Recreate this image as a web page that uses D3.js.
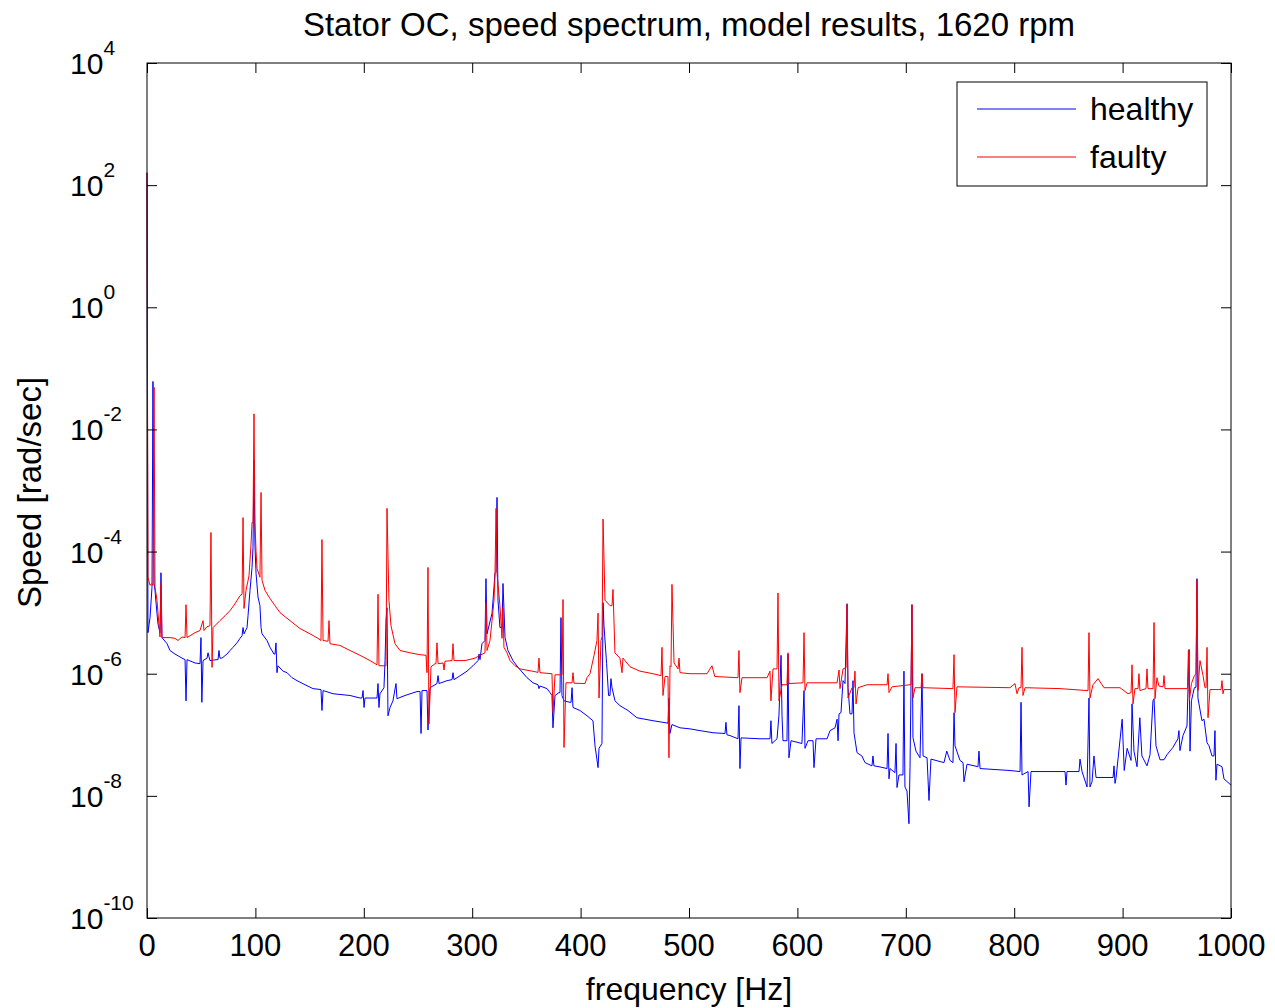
<!DOCTYPE html>
<html lang="en">
<head>
   <meta charset="UTF-8">
   <title>Stator OC, speed spectrum</title>
   <style>
      html, body {
         margin: 0;
         background: #fff;
      }
      text {
         font-family: 'Liberation Sans', Arial, sans-serif;
         fill: #000;
      }
      .trace {
         fill: none;
         stroke-width: 1;
         stroke-linejoin: miter;
      }
   </style>
   <script src="https://cdn.jsdelivr.net/npm/d3@7"></script>
</head>
<body>
   <div class="chart"></div>
   <script>
      // data: [frequency Hz, speed rad/sec]
      const healthy = [
         [0, 1.6e2], [0.9, 4.7e-6], [2.8, 8.3e-6], [4.6, 2.6e-5], [5.5, 6.1e-2], [6.5, 3.0e-5], [7.4, 2.3e-5],
         [9.2, 9.7e-6], [10.1, 6.6e-6], [12.0, 4.7e-6], [12.9, 4.5e-5], [13.8, 3.9e-6], [18.5, 3.1e-6],
         [21.2, 2.4e-6], [25.8, 2.1e-6], [32.3, 1.8e-6], [35.1, 1.7e-6], [36.0, 3.6e-7], [36.9, 1.7e-6],
         [44.3, 1.5e-6], [48.9, 1.46e-6], [49.8, 3.9e-6], [50.6, 3.4e-7], [51.7, 1.64e-6], [55.4, 1.8e-6],
         [56.3, 2.2e-6], [58.1, 1.64e-6], [64.6, 1.7e-6], [65.5, 1.7e-6], [66.4, 2.4e-6], [67.3, 1.8e-6],
         [69.2, 1.8e-6], [73.8, 2.1e-6], [76.6, 2.4e-6], [79.3, 2.7e-6], [83.0, 3.2e-6], [85.8, 3.8e-6],
         [87.7, 4.2e-6], [88.6, 5.7e-6], [89.5, 4.5e-6], [92.3, 5.7e-6], [93.2, 8.9e-6], [95.0, 2.3e-5],
         [96.9, 5.5e-5], [97.8, 1.17e-4], [98.7, 3.1e-3], [99.6, 1.25e-4], [100.6, 4.4e-5], [102.4, 1.8e-5],
         [104.2, 1.3e-5], [105.2, 5.7e-6], [106.1, 4.5e-6], [110.7, 3.5e-6], [113.5, 2.7e-6], [117.2, 2.1e-6],
         [118.1, 2.1e-6], [119.0, 3.2e-6], [119.9, 1.04e-6], [120.8, 1.35e-6], [125.5, 1.1e-6], [129.2, 1.04e-6],
         [133.8, 8.6e-7], [138.4, 7.7e-7], [145.8, 6.6e-7], [153.1, 5.7e-7], [160.5, 5.5e-7], [161.4, 2.5e-7],
         [162.4, 5.3e-7], [171.6, 4.7e-7], [187.3, 4.4e-7], [196.5, 4.0e-7], [198.4, 4.0e-7], [199.3, 5.3e-7],
         [200.2, 2.8e-7], [201.1, 4.0e-7], [207.6, 4.0e-7], [212.2, 4.0e-7], [213.1, 6.9e-7], [214.0, 2.8e-7],
         [214.9, 4.7e-7], [218.6, 5.9e-7], [219.6, 1.64e-6], [220.5, 7.4e-6], [221.4, 1.2e-5], [222.3, 2.05e-7],
         [224.2, 2.8e-7], [226.9, 3.6e-7], [229.7, 6.9e-7], [230.6, 3.9e-7], [238.0, 4.4e-7], [249.1, 5.1e-7],
         [251.9, 5.1e-7], [252.8, 1.05e-7], [253.7, 5.3e-7], [258.3, 5.3e-7], [259.2, 1.2e-7], [261.1, 5.9e-7],
         [267.5, 6.9e-7], [268.5, 9.3e-7], [269.4, 6.9e-7], [276.8, 7.7e-7], [281.4, 8.0e-7], [282.3, 1.04e-6],
         [283.2, 8.0e-7], [286.0, 8.6e-7], [295.2, 1.1e-6], [300.7, 1.35e-6], [305.4, 1.64e-6], [306.3, 2.1e-6],
         [307.2, 1.7e-6], [309.0, 3.1e-6], [311.8, 3.5e-6], [312.7, 3.6e-5], [313.7, 4.5e-6], [318.3, 9.8e-6],
         [320.1, 2.6e-5], [321.0, 4.4e-5], [322.0, 4.6e-5], [322.9, 7.7e-4], [323.8, 1.6e-5], [325.6, 5.7e-6],
         [327.5, 5.7e-6], [328.4, 3.0e-5], [330.3, 3.9e-6], [333.0, 2.4e-6], [337.6, 1.64e-6], [342.3, 1.27e-6],
         [350.6, 8.6e-7], [356.1, 7.1e-7], [360.7, 6.6e-7], [361.6, 5.7e-7], [362.5, 6.3e-7], [369.0, 5.7e-7],
         [371.8, 4.9e-7], [373.6, 4.4e-7], [374.5, 1.3e-7], [376.4, 4.4e-7], [380.0, 4.9e-7], [381.0, 4.9e-7],
         [381.9, 8.3e-6], [382.8, 4.4e-7], [384.7, 3.6e-7], [390.2, 3.4e-7], [391.2, 3.4e-7], [392.1, 5.9e-7],
         [393.0, 2.8e-7], [399.4, 2.5e-7], [405.9, 2.05e-7], [411.4, 1.7e-7], [413.3, 6.6e-8], [416.1, 2.9e-8],
         [417.0, 6.0e-8], [419.7, 7.2e-8], [420.7, 1.46e-5], [421.6, 6.1e-6], [424.0, 1.46e-6], [425.8, 4.4e-7],
         [427.1, 4.4e-7], [428.0, 8.3e-7], [428.9, 6.0e-7], [431.7, 3.6e-7], [436.3, 3.0e-7], [443.7, 2.5e-7],
         [452.0, 1.9e-7], [466.8, 1.7e-7], [476.0, 1.6e-7], [480.6, 1.55e-7], [481.5, 4.0e-7], [482.4, 1.05e-7],
         [484.3, 1.47e-7], [491.7, 1.3e-7], [500.9, 1.25e-7], [510.1, 1.17e-7], [522.1, 1.08e-7], [533.2, 1.05e-7],
         [534.1, 1.6e-7], [535.0, 1.0e-7], [537.8, 9.7e-8], [545.2, 8.6e-8], [546.1, 3.0e-7], [547.0, 2.8e-8],
         [548.0, 8.9e-8], [565.5, 8.6e-8], [574.7, 8.6e-8], [575.6, 1.7e-7], [576.5, 7.2e-8], [581.2, 8.6e-8],
         [583.0, 2.1e-7], [584.9, 2.0e-6], [585.8, 2.1e-7], [586.7, 8.0e-8], [590.4, 8.0e-8], [591.3, 2.1e-6],
         [592.2, 4.2e-8], [594.1, 8.0e-8], [604.2, 7.2e-8], [606.1, 5.3e-7], [607.0, 6.0e-8], [609.8, 8.0e-8],
         [614.4, 8.0e-8], [615.3, 2.9e-8], [617.2, 8.6e-8], [627.4, 8.6e-8], [630.1, 1.17e-7], [634.7, 1.3e-7],
         [636.6, 1.8e-7], [637.5, 8.0e-8], [638.4, 2.2e-7], [640.2, 2.3e-7], [642.1, 7.7e-7], [643.9, 6.9e-7],
         [645.8, 1.4e-5], [646.7, 5.9e-7], [648.5, 2.2e-7], [650.4, 2.2e-7], [651.3, 7.7e-7], [652.2, 1.08e-7],
         [655.0, 5.1e-8], [659.5, 4.5e-8], [662.4, 3.5e-8], [668.8, 3.1e-8], [669.7, 4.5e-8], [670.6, 3.1e-8],
         [675.3, 3.0e-8], [682.7, 2.8e-8], [683.6, 1.05e-7], [684.5, 1.9e-8], [685.4, 2.8e-8], [690.0, 2.4e-8],
         [691.0, 7.2e-8], [691.9, 1.37e-8], [693.7, 2.2e-8], [697.4, 2.2e-8], [698.3, 1.1e-6], [699.2, 1.4e-8],
         [701.1, 1.2e-8], [702.9, 3.5e-9], [703.9, 2.9e-8], [705.7, 1.35e-5], [706.6, 9.0e-8], [709.4, 5.4e-8],
         [713.1, 4.2e-8], [715.0, 1.0e-6], [715.9, 4.5e-8], [719.6, 4.2e-8], [721.4, 8.4e-9], [723.2, 4.0e-8],
         [735.2, 3.5e-8], [737.8, 5.4e-8], [740.8, 3.8e-8], [743.5, 3.5e-8], [744.5, 2.3e-7], [745.4, 6.6e-8],
         [750.0, 3.8e-8], [752.8, 3.5e-8], [753.7, 1.7e-8], [756.5, 3.3e-8], [766.6, 3.0e-8], [767.5, 5.4e-8],
         [768.5, 2.8e-8], [796.1, 2.6e-8], [805.4, 2.5e-8], [806.3, 3.4e-7], [807.2, 2.2e-8], [812.8, 2.5e-8],
         [813.7, 6.6e-9], [815.5, 2.5e-8], [835.8, 2.5e-8], [846.9, 2.5e-8], [847.8, 1.5e-8], [848.7, 2.5e-8],
         [859.8, 2.5e-8], [860.7, 4.0e-8], [862.6, 2.5e-8], [867.2, 1.4e-8], [869.0, 4.0e-7], [869.9, 1.4e-8],
         [871.8, 1.7e-8], [873.6, 4.5e-8], [875.5, 2.0e-8], [891.2, 2.0e-8], [892.1, 3.1e-8], [893.0, 1.6e-8],
         [894.0, 2.0e-8], [899.6, 1.8e-7], [901.5, 2.6e-8], [904.2, 6.0e-8], [907.8, 3.8e-8], [908.7, 3.2e-7],
         [910.5, 5.4e-8], [913.3, 3.0e-8], [915.9, 1.9e-7], [917.8, 4.5e-8], [922.5, 3.1e-8], [925.3, 4.7e-8],
         [928.0, 3.6e-7], [929.0, 3.9e-7], [930.8, 6.6e-8], [934.5, 3.9e-8], [938.2, 3.9e-8], [940.9, 4.7e-8],
         [946.4, 6.2e-8], [951.0, 8.6e-8], [952.0, 1.17e-7], [952.9, 5.5e-8], [955.7, 9.7e-8], [959.4, 1.4e-7],
         [961.3, 2.5e-6], [962.2, 5.4e-8], [963.5, 3.6e-7], [966.2, 5.9e-7], [967.7, 6.0e-7], [968.6, 3.6e-5],
         [969.5, 4.0e-7], [973.2, 1.7e-7], [975.1, 1.8e-7], [977.9, 7.4e-8], [979.7, 6.6e-8], [982.5, 4.5e-8],
         [984.3, 4.5e-8], [985.2, 1.17e-7], [986.1, 1.8e-8], [987.1, 3.3e-8], [991.7, 3.0e-8], [993.5, 1.9e-8],
         [1000, 1.5e-8]
      ]

      const faulty = [
         [0, 1.6e2], [0.9, 3.8e-5], [2.8, 2.8e-5], [4.6, 3.0e-5], [5.6, 2.8e-5], [6.5, 4.9e-2], [7.4, 2.6e-5],
         [9.2, 1.6e-5], [11.1, 6.1e-6], [12.0, 4.0e-6], [12.9, 3.1e-5], [13.8, 3.9e-6], [21.2, 3.9e-6],
         [25.8, 3.8e-6], [28.6, 3.5e-6], [32.3, 4.0e-6], [35.1, 3.9e-6], [36.0, 1.35e-5], [36.9, 3.9e-6],
         [44.3, 4.7e-6], [48.9, 5.1e-6], [51.7, 7.4e-6], [52.6, 5.1e-6], [55.4, 5.9e-6], [58.1, 6.1e-6],
         [59.0, 2.05e-4], [60.0, 1.27e-6], [60.9, 5.7e-6], [67.3, 7.4e-6], [72.0, 8.9e-6], [76.6, 1.08e-5],
         [81.2, 1.4e-5], [85.8, 1.9e-5], [87.7, 2.0e-5], [88.6, 3.6e-4], [89.5, 1.17e-5], [91.3, 2.3e-5],
         [94.1, 4.0e-5], [95.9, 1.27e-4], [96.9, 3.0e-4], [97.8, 3.0e-4], [98.7, 1.8e-2], [99.6, 3.0e-4],
         [100.6, 1.0e-4], [101.5, 5.3e-5], [104.2, 3.8e-5], [105.2, 9.3e-4], [106.1, 3.4e-5], [108.9, 2.3e-5],
         [113.5, 1.7e-5], [118.1, 1.3e-5], [122.7, 1.0e-5], [131.9, 7.4e-6], [141.1, 5.5e-6], [150.4, 4.5e-6],
         [157.7, 3.8e-6], [160.5, 3.5e-6], [161.4, 1.57e-4], [162.4, 3.5e-6], [167.0, 3.4e-6], [167.9, 7.4e-6],
         [168.8, 3.1e-6], [178.0, 2.9e-6], [187.3, 2.4e-6], [196.5, 2.0e-6], [205.7, 1.64e-6], [212.2, 1.4e-6],
         [213.1, 2.0e-5], [214.0, 1.35e-6], [220.5, 1.35e-6], [221.4, 5.1e-4], [223.2, 1.6e-5], [225.1, 6.1e-6],
         [228.8, 3.1e-6], [233.4, 2.4e-6], [242.6, 2.2e-6], [251.8, 2.05e-6], [257.4, 2.0e-6], [258.3, 1.04e-6],
         [259.2, 5.5e-5], [260.1, 1.5e-7], [262.0, 1.3e-6], [265.7, 1.46e-6], [266.6, 1.46e-6], [267.5, 3.2e-6],
         [268.5, 1.46e-6], [273.1, 1.5e-6], [274.0, 1.15e-6], [274.9, 1.6e-6], [281.4, 1.64e-6], [282.3, 3.1e-6],
         [283.2, 1.64e-6], [293.4, 1.64e-6], [302.6, 1.8e-6], [307.2, 2.0e-6], [311.8, 2.2e-6], [312.7, 1.46e-5],
         [313.7, 2.4e-6], [316.4, 3.5e-6], [318.3, 7.4e-6], [320.1, 1.6e-5], [321.0, 4.0e-5], [322.0, 5.1e-4],
         [322.9, 4.4e-5], [325.6, 1.3e-5], [327.5, 3.8e-6], [328.4, 1.2e-5], [329.3, 2.7e-6], [332.1, 2.2e-6],
         [334.9, 1.64e-6], [339.5, 1.35e-6], [344.1, 1.2e-6], [357.9, 1.08e-6], [360.7, 1.05e-6], [361.6, 1.8e-6],
         [362.5, 1.04e-6], [373.6, 1.0e-6], [374.5, 2.3e-7], [376.4, 9.6e-7], [382.9, 9.6e-7], [383.8, 1.64e-5],
         [384.7, 6.2e-8], [386.5, 7.1e-7], [392.1, 7.1e-7], [393.0, 1.04e-6], [393.9, 7.0e-7], [404.1, 6.9e-7],
         [405.9, 8.6e-7], [408.7, 1.0e-6], [412.4, 2.0e-6], [415.1, 3.5e-6], [416.1, 9.8e-6], [417.0, 4.0e-7],
         [418.8, 3.5e-6], [419.8, 4.0e-6], [420.7, 3.4e-4], [422.5, 1.6e-5], [427.1, 1.3e-5], [429.0, 1.3e-5],
         [429.9, 2.4e-5], [431.7, 2.2e-6], [436.3, 1.8e-6], [438.2, 1.04e-6], [439.1, 1.8e-6], [445.6, 1.3e-6],
         [454.8, 1.1e-6], [466.8, 1.0e-6], [474.2, 9.3e-7], [475.1, 2.7e-6], [476.0, 4.4e-7], [477.9, 9.0e-7],
         [480.6, 9.0e-7], [481.5, 4.2e-8], [482.5, 1.35e-6], [483.4, 1.3e-6], [484.3, 2.9e-5], [486.2, 1.5e-6],
         [489.9, 1.2e-6], [490.8, 1.8e-6], [491.7, 1.04e-6], [500.9, 1.0e-6], [516.6, 1.0e-6], [521.2, 1.35e-6],
         [523.8, 9.0e-7], [545.2, 8.6e-7], [546.1, 2.4e-6], [547.0, 4.9e-7], [548.9, 8.6e-7], [572.0, 8.6e-7],
         [574.7, 1.1e-6], [575.6, 3.6e-7], [577.5, 1.2e-6], [581.2, 1.2e-6], [582.1, 2.1e-5], [583.0, 3.6e-7],
         [585.8, 6.6e-7], [590.4, 6.6e-7], [591.3, 2.2e-6], [592.2, 6.9e-7], [605.2, 7.1e-7], [606.1, 4.7e-6],
         [607.0, 5.3e-7], [608.9, 7.1e-7], [636.6, 7.1e-7], [638.4, 1.15e-6], [639.3, 5.7e-7], [642.1, 1.2e-6],
         [644.9, 1.25e-6], [645.8, 1.35e-5], [646.7, 4.0e-7], [650.4, 5.9e-7], [652.2, 5.9e-7], [653.1, 1.1e-6],
         [654.1, 3.2e-7], [656.0, 5.9e-7], [664.3, 6.6e-7], [682.7, 6.6e-7], [683.6, 1.0e-6], [684.5, 4.9e-7],
         [687.3, 6.1e-7], [703.9, 6.6e-7], [704.8, 6.6e-7], [705.7, 1.35e-5], [706.6, 4.0e-7], [708.5, 5.9e-7],
         [714.1, 5.9e-7], [715.0, 1.0e-6], [715.9, 5.9e-7], [743.5, 5.7e-7], [744.5, 2.05e-6], [745.4, 2.3e-7],
         [747.2, 6.1e-7], [796.1, 5.9e-7], [800.7, 6.9e-7], [802.6, 4.7e-7], [804.4, 5.9e-7], [806.3, 5.9e-7],
         [807.2, 2.7e-6], [808.1, 4.4e-7], [810.0, 5.9e-7], [842.3, 5.7e-7], [867.2, 5.3e-7], [868.1, 5.3e-7],
         [869.0, 4.7e-6], [869.9, 4.0e-7], [872.7, 6.6e-7], [877.3, 8.3e-7], [881.0, 6.6e-7], [882.8, 5.9e-7],
         [897.6, 5.9e-7], [905.0, 4.7e-7], [907.8, 4.9e-7], [908.7, 1.4e-6], [909.6, 3.2e-7], [911.4, 5.7e-7],
         [914.2, 5.7e-7], [915.1, 1.0e-6], [916.0, 5.3e-7], [921.6, 5.7e-7], [922.5, 1.2e-6], [923.4, 5.7e-7],
         [928.1, 5.7e-7], [929.0, 6.9e-6], [929.9, 3.9e-7], [931.7, 8.6e-7], [933.5, 6.3e-7], [937.3, 6.1e-7],
         [938.2, 9.3e-7], [939.1, 5.7e-7], [959.8, 5.7e-7], [960.7, 2.4e-6], [961.6, 3.6e-7], [963.5, 6.9e-7],
         [966.2, 9.3e-7], [967.7, 1.0e-6], [968.6, 3.4e-5], [969.5, 5.3e-7], [971.4, 1.64e-6], [974.2, 9.3e-7],
         [976.0, 5.9e-7], [977.0, 5.9e-7], [977.9, 2.7e-6], [978.8, 1.9e-7], [980.6, 5.5e-7], [990.8, 5.5e-7],
         [991.7, 7.7e-7], [992.6, 4.7e-7], [993.5, 5.5e-7], [1000, 5.5e-7]
      ]

      const xTicks = [0, 100, 200, 300, 400, 500, 600, 700, 800, 900, 1000]
      const yTickExponents = [4, 2, 0, -2, -4, -6, -8, -10]
      const seriesNames = ['healthy', 'faulty']
      const seriesColors = ['#0000ff', '#ff0000']

      // setup
      const svg = d3.select('.chart').append('svg')
         .attr('width', 1275)
         .attr('height', 1008)

      const padding = { top: 63, right: 44, bottom: 90, left: 147 }
      const WIDTH = 1275 - padding.left - padding.right
      const HEIGHT = 1008 - padding.top - padding.bottom

      const chart = svg.append('g')
         .attr('transform', `translate(${padding.left}, ${padding.top})`)

      // scales
      const xScale = d3.scaleLinear()
         .domain([0, 1000])
         .range([0, WIDTH])

      const yScale = d3.scaleLog()
         .domain([1e-10, 1e4])
         .range([HEIGHT, 0])

      // traces, healthy first so faulty lies on top
      const line = d3.line()
         .x(d => xScale(d[0]))
         .y(d => yScale(d[1]))

      const plot = chart.append('g')
      ;[healthy, faulty].forEach((series, i) => {
         plot.append('path')
            .datum(series)
            .attr('class', 'trace')
            .attr('stroke', seriesColors[i])
            .attr('d', line)
      })

      // axes: inward ticks on all four sides, no labels from d3
      const TICK = 10
      const yTickValues = yTickExponents.map(e => Math.pow(10, e))

      const addAxis = (axis, transform) => {
         const g = chart.append('g')
            .attr('transform', transform)
            .call(axis)
         g.selectAll('text').remove()
         g.selectAll('.domain').remove()
         g.selectAll('line').attr('stroke', '#000')
      }
      addAxis(d3.axisBottom(xScale).tickValues(xTicks).tickSize(-TICK), `translate(0, ${HEIGHT})`)
      addAxis(d3.axisTop(xScale).tickValues(xTicks).tickSize(-TICK), 'translate(0, 0)')
      addAxis(d3.axisLeft(yScale).tickValues(yTickValues).tickSize(-TICK), 'translate(0, 0)')
      addAxis(d3.axisRight(yScale).tickValues(yTickValues).tickSize(-TICK), `translate(${WIDTH}, 0)`)

      chart.append('rect')
         .attr('width', WIDTH)
         .attr('height', HEIGHT)
         .attr('fill', 'none')
         .attr('stroke', '#000')
         .attr('stroke-width', 1)

      // tick labels
      chart.selectAll('.xlabel')
         .data(xTicks)
         .enter()
         .append('text')
         .attr('class', 'xlabel')
         .attr('x', d => xScale(d))
         .attr('y', HEIGHT + 38)
         .attr('text-anchor', 'middle')
         .style('font-size', '31px')
         .text(d => d)

      const yLabels = chart.selectAll('.ylabel')
         .data(yTickExponents)
         .enter()
         .append('text')
         .attr('class', 'ylabel')
         .attr('x', -77)
         .attr('y', d => yScale(Math.pow(10, d)) + 11)
         .style('font-size', '30px')
      yLabels.append('tspan').text('10')
      yLabels.append('tspan')
         .attr('dy', -19)
         .style('font-size', '21px')
         .text(d => d)

      // titles
      svg.append('text')
         .attr('x', padding.left + WIDTH / 2)
         .attr('y', 36)
         .attr('text-anchor', 'middle')
         .style('font-size', '33px')
         .text('Stator OC, speed spectrum, model results, 1620 rpm')

      svg.append('text')
         .attr('x', padding.left + WIDTH / 2)
         .attr('y', 1000)
         .attr('text-anchor', 'middle')
         .style('font-size', '32px')
         .text('frequency [Hz]')

      svg.append('text')
         .attr('transform', `translate(41, ${padding.top + HEIGHT / 2 + 2}) rotate(-90)`)
         .attr('text-anchor', 'middle')
         .style('font-size', '33px')
         .text('Speed [rad/sec]')

      // legend
      const legend = chart.append('g')
         .attr('transform', `translate(${WIDTH - 274}, 19)`)

      legend.append('rect')
         .attr('width', 250)
         .attr('height', 104)
         .attr('fill', '#fff')
         .attr('stroke', '#000')

      seriesNames.forEach((name, i) => {
         const y = 27 + i * 48
         legend.append('line')
            .attr('x1', 20)
            .attr('x2', 119)
            .attr('y1', y)
            .attr('y2', y)
            .attr('stroke', seriesColors[i])
         legend.append('text')
            .attr('x', 133)
            .attr('y', y + 11)
            .style('font-size', '32px')
            .text(name)
      })
   </script>
</body>
</html>
